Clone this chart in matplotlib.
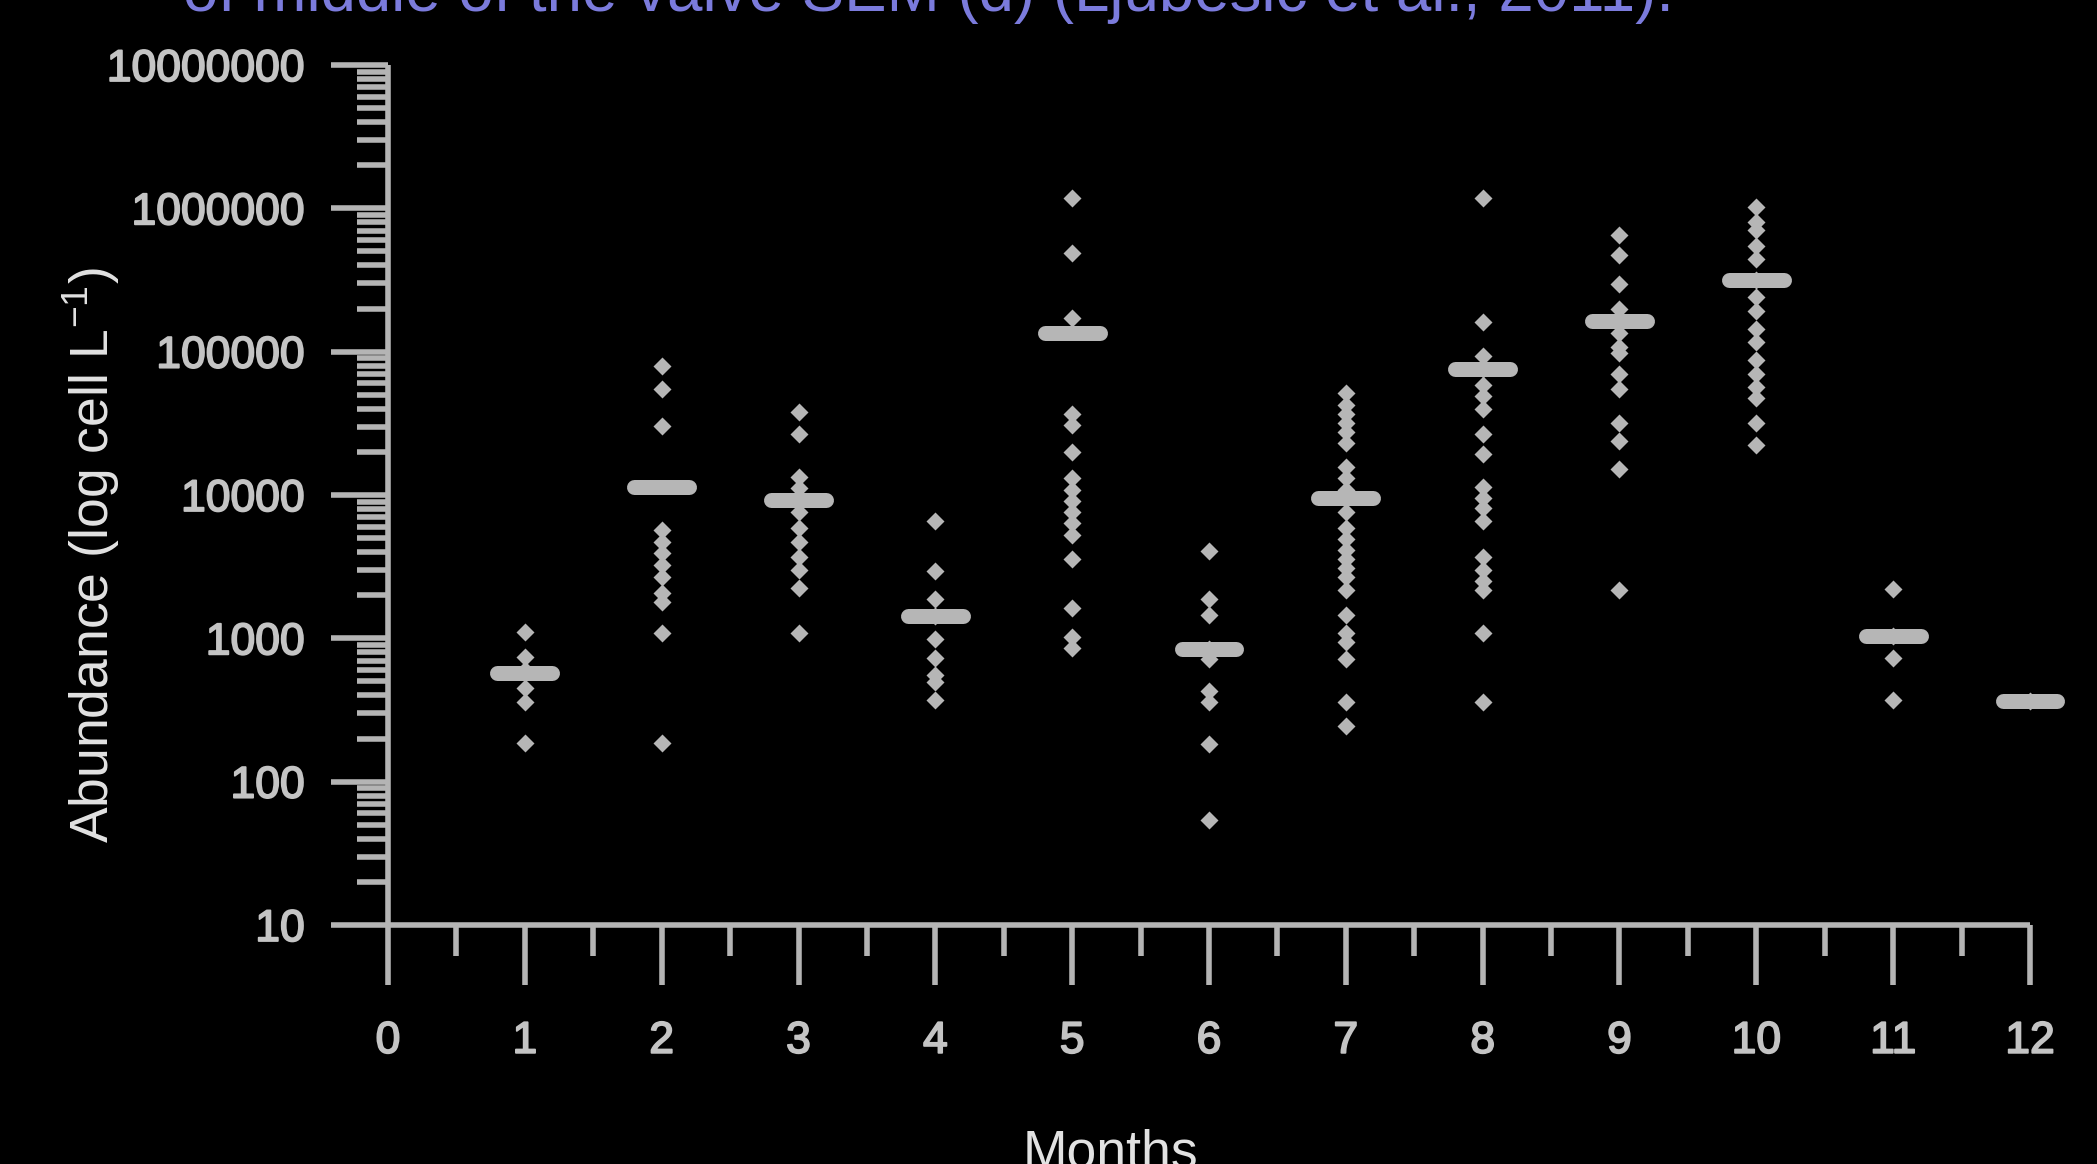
import matplotlib
matplotlib.use('Agg')
import matplotlib.pyplot as plt
import matplotlib.patheffects as pe
from matplotlib.ticker import LogLocator, FuncFormatter, NullFormatter

plt.rcParams['font.family'] = ['Liberation Sans', 'DejaVu Sans']
plt.rcParams['mathtext.fontset'] = 'custom'
plt.rcParams['mathtext.rm'] = 'Liberation Sans'
plt.rcParams['mathtext.it'] = 'Liberation Sans:italic'

# ---- data (cells per litre) ----
months = [1, 2, 3, 4, 5, 6, 7, 8, 9, 10, 11, 12]
month1 = [1110, 743, 600, 447, 360, 185]
month2 = [79400, 54800, 30300, 5690, 4710, 3910, 3240, 2690, 2060, 1800, 1090, 185]
month3 = [38100, 26500, 13400, 11200, 9210, 7640, 5850, 4710, 3700, 2990, 2230, 1090]
month4 = [6590, 2940, 1880, 1440, 986, 724, 554, 498, 369]
month5 = [1176000, 490000, 173000, 36900, 30900, 19800, 13060, 10900, 9120, 7620,
          6370, 5240, 3590, 1630, 1020, 853]
month6 = [4080, 1880, 1460, 841, 713, 431, 360, 182, 54]
month7 = [51100, 42700, 36900, 32000, 27700, 23200, 15600, 13060, 10900, 9590, 7620,
          5930, 4960, 4140, 3590, 3110, 2690, 2170, 1460, 1097, 950, 713, 360, 243]
month8 = [1176000, 161000, 94000, 75700, 58900, 49200, 39700, 26700, 19400, 11300,
          9460, 8180, 6590, 3720, 3000, 2500, 2170, 1097, 360]
month9 = [652000, 472000, 296000, 200000, 163000, 134600, 108600, 97300, 70400,
          54800, 32000, 24000, 15300, 2170]
month10 = [1018000, 809000, 701000, 546000, 440000, 318000, 239000, 193000, 144500,
           116500, 87500, 70400, 56900, 47500, 32000, 22400]
month11 = [2200, 1036, 729, 369]
month12 = [366]
samples = [month1, month2, month3, month4, month5, month6, month7, month8,
           month9, month10, month11, month12]
medians = [569, 11400, 9210, 1440, 134600, 841, 9590, 75700, 163000, 318000, 1036, 366]

x_ticks = list(range(0, 13))
x_minor = [i + 0.5 for i in range(12)]

title_text = 'of middle of the valve SEM (d) (Ljubesic et al., 2011).'
ylabel_text = 'Abundance (log cell L$^{-1}$)'
xlabel_text = 'Months'

# ---- styles ----
mark_c = '#b6b6b6'
axis_c = '#b4b4b4'
tick_lab_c = '#c4c4c4'
label_c = '#e2e2e2'
title_c = '#7b7bdc'

W, H = 2097, 1164
fig = plt.figure(figsize=(W / 100, H / 100), dpi=100, facecolor='black')
ax = fig.add_axes([388 / W, 1 - 925 / H, (2030 - 388) / W, (925 - 65) / H])
ax.set_facecolor('black')
ax.set_yscale('log')
ax.set_xlim(0, 12)
ax.set_ylim(10, 1e7)

for m, vals in zip(months, samples):
    ax.plot([m] * len(vals), vals, ls='none', marker='D', ms=9.4, color=mark_c,
            mec='none', clip_on=False, zorder=3)
for m, med in zip(months, medians):
    ax.plot([m - 0.2, m + 0.2], [med, med], color=mark_c, lw=10.8,
            solid_capstyle='round', clip_on=False, zorder=4)

for s in ['top', 'right']:
    ax.spines[s].set_visible(False)
for s in ['left', 'bottom']:
    ax.spines[s].set_color(axis_c)
    ax.spines[s].set_linewidth(4)
    ax.spines[s].set_capstyle('butt')

ax.yaxis.set_major_locator(LogLocator(base=10, numticks=20))
ax.yaxis.set_minor_locator(LogLocator(base=10, subs=range(2, 10), numticks=100))
ax.yaxis.set_major_formatter(FuncFormatter(lambda v, p: f'{int(round(v))}'))
ax.yaxis.set_minor_formatter(NullFormatter())
ax.set_xticks(x_ticks)
ax.set_xticklabels([str(t) for t in x_ticks])
ax.set_xticks(x_minor, minor=True)

ax.tick_params(axis='y', which='major', length=41, width=4, color=axis_c,
               direction='out', pad=19, labelsize=32, labelcolor=tick_lab_c)
ax.tick_params(axis='y', which='minor', length=22, width=4, color=axis_c,
               direction='out')
ax.tick_params(axis='x', which='major', length=43, width=4, color=axis_c,
               direction='out', pad=26, labelsize=32, labelcolor=tick_lab_c)
ax.tick_params(axis='x', which='minor', length=22, width=4, color=axis_c,
               direction='out')

thick = [pe.withStroke(linewidth=1.3, foreground=tick_lab_c)]
for lab in ax.get_xticklabels() + ax.get_yticklabels():
    lab.set_path_effects(thick)

fig.text(92 / W, 1 - 555 / H, ylabel_text, rotation=90, ha='center', va='center',
         fontsize=38.5, color=label_c)
fig.text(1110 / W, 1 - 1168 / H, xlabel_text, ha='center', va='baseline',
         fontsize=38.5, color=label_c)
fig.text(183 / W, 1 - 11 / H, title_text, ha='left', va='baseline',
         fontsize=45.8, color=title_c)

fig.savefig('out.png', dpi=100, facecolor='black')
